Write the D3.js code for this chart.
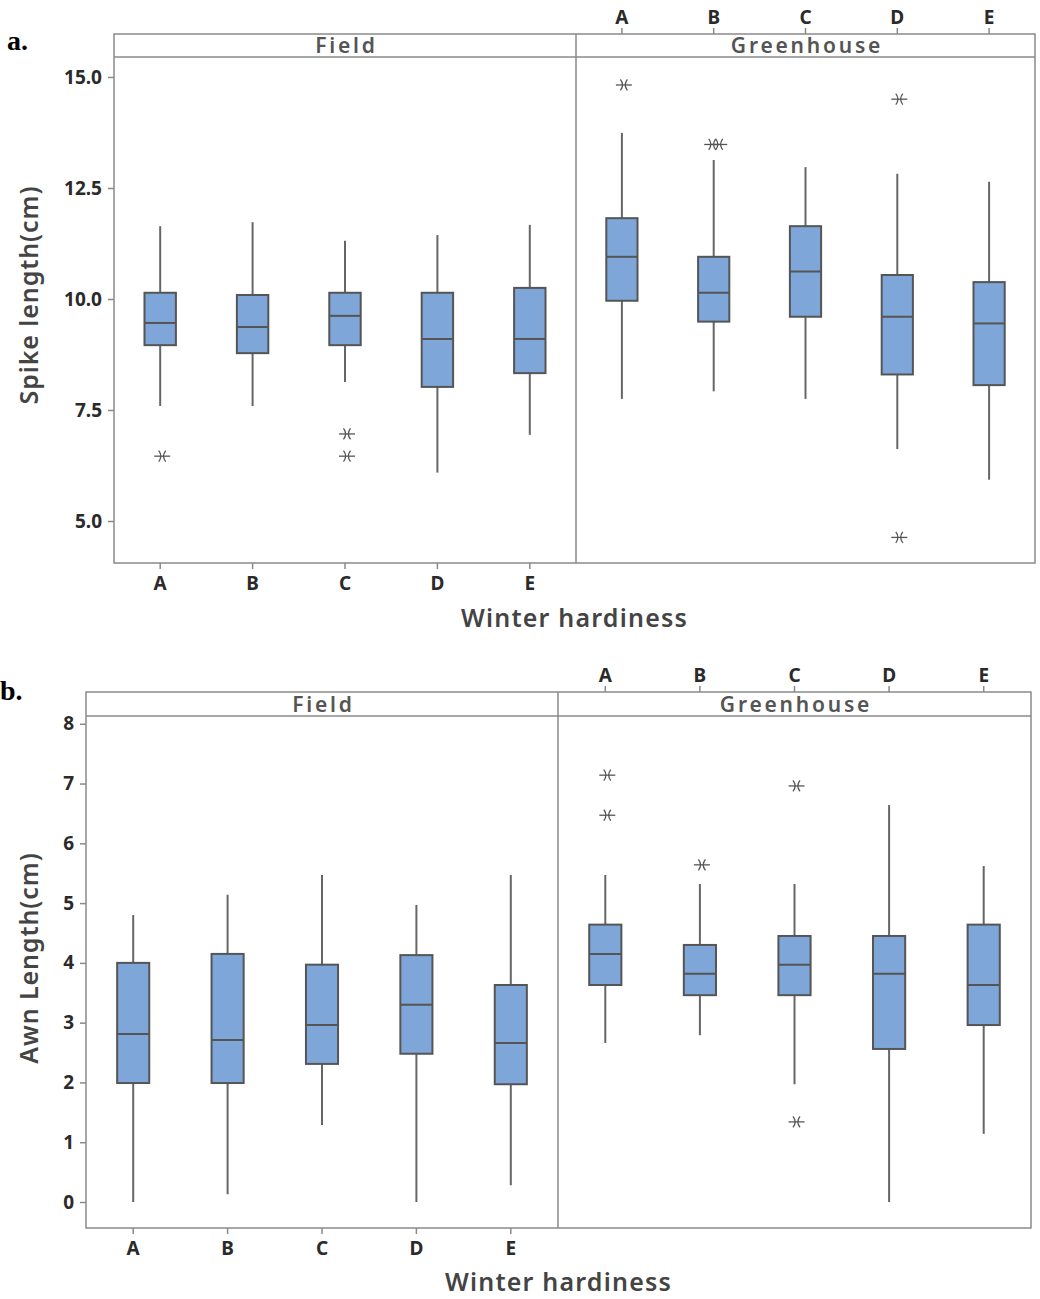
<!DOCTYPE html>
<html><head><meta charset="utf-8">
<script src="https://cdn.jsdelivr.net/npm/d3@7"></script>
<style>body{margin:0;background:#fff}</style>
</head><body>
<svg id="chart" width="1040" height="1299"></svg>
<script>
// ---------- DATA ----------
const categories = ["A","B","C","D","E"];
const groups = ["Field","Greenhouse"];
// each row: [whiskerLow, Q1, median, Q3, whiskerHigh]
const spikeField = [
  [7.59, 8.96, 9.46, 10.14, 11.64],
  [7.59, 8.78, 9.37, 10.09, 11.73],
  [8.13, 8.96, 9.62, 10.14, 11.31],
  [6.09, 8.02, 9.10, 10.14, 11.44],
  [6.94, 8.33, 9.10, 10.25, 11.67]
];
const spikeGreenhouse = [
  [7.75, 9.96, 10.95, 11.82, 13.74],
  [7.92, 9.49, 10.14, 10.95, 13.13],
  [7.75, 9.60, 10.62, 11.64, 12.97],
  [6.62, 8.30, 9.60, 10.54, 12.82],
  [5.93, 8.06, 9.45, 10.38, 12.64]
];
const spikeFieldOutliers = [[6.46], [], [6.96, 6.46], [], []];
const spikeGreenhouseOutliers = [[14.82], [13.48, 13.48], [], [14.50, 4.63], []];
const spikeTicks = [5.0, 7.5, 10.0, 12.5, 15.0];

const awnField = [
  [0.00, 1.99, 2.81, 4.00, 4.80],
  [0.13, 1.99, 2.71, 4.15, 5.14],
  [1.29, 2.31, 2.96, 3.97, 5.47],
  [0.00, 2.48, 3.30, 4.13, 4.97],
  [0.28, 1.97, 2.66, 3.63, 5.47]
];
const awnGreenhouse = [
  [2.66, 3.63, 4.15, 4.64, 5.47],
  [2.79, 3.46, 3.82, 4.30, 5.32],
  [1.97, 3.46, 3.97, 4.45, 5.32],
  [0.00, 2.56, 3.82, 4.45, 6.64],
  [1.14, 2.96, 3.63, 4.64, 5.62]
];
const awnFieldOutliers = [[], [], [], [], []];
const awnGreenhouseOutliers = [[7.14, 6.47], [5.64], [6.96, 1.34], [], []];
const awnTicks = [0, 1, 2, 3, 4, 5, 6, 7, 8];

// ---------- DRAW ----------
const svg = d3.select("#chart");
const FONT = "'Noto Sans', 'Open Sans', sans-serif";
const boxFill = "#7ea6d8", boxStroke = "#555", frameStroke = "#8a8a8a";

function star(g, x, y) {
  const s = g.append("g").attr("transform", `translate(${x},${y})`)
    .attr("fill", "none").attr("stroke", "#555").attr("stroke-width", 1.3);
  s.append("path").attr("d", "M-8,0H8");
  s.append("path").attr("d", "M-3.5,-5.5Q0.8,0 -3.5,5.5");
  s.append("path").attr("d", "M3.5,-5.5Q-0.8,0 3.5,5.5");
}

function styleTickText(sel) {
  sel.selectAll("text").attr("font-family", FONT).attr("font-size", 19)
    .attr("font-weight", 700).attr("fill", "#2a2a2a");
}

function drawPanel(cfg) {
  const g = svg.append("g");
  const y = d3.scaleLinear().domain(cfg.yDomain).range([cfg.bottom, cfg.stripBottom]);
  const xs = [
    d3.scaleBand().domain(categories).range([cfg.left, cfg.mid]),
    d3.scaleBand().domain(categories).range([cfg.mid, cfg.right])
  ];
  const dataSets = [cfg.field, cfg.green];
  const outSets = [cfg.fieldOut, cfg.greenOut];

  // frames
  g.append("rect").attr("x", cfg.left).attr("y", cfg.stripTop)
    .attr("width", cfg.right - cfg.left).attr("height", cfg.bottom - cfg.stripTop)
    .attr("fill", "none").attr("stroke", frameStroke).attr("stroke-width", 1.5);
  g.append("line").attr("x1", cfg.left).attr("x2", cfg.right)
    .attr("y1", cfg.stripBottom).attr("y2", cfg.stripBottom)
    .attr("stroke", frameStroke).attr("stroke-width", 1.5);
  g.append("line").attr("x1", cfg.mid).attr("x2", cfg.mid)
    .attr("y1", cfg.stripTop).attr("y2", cfg.bottom)
    .attr("stroke", frameStroke).attr("stroke-width", 1.5);

  // strip labels
  groups.forEach((name, i) => {
    const [a, b] = xs[i].range();
    g.append("text").attr("x", (a + b) / 2 + 1.5).attr("y", cfg.stripBottom - 4)
      .attr("text-anchor", "middle").attr("font-family", FONT)
      .attr("font-size", 21).attr("font-weight", 600).attr("letter-spacing", 2.8)
      .attr("fill", "#555").text(name);
  });

  // y axis
  const yAxis = d3.axisLeft(y).tickValues(cfg.ticks).tickSize(6).tickPadding(6)
    .tickFormat(cfg.tickFormat);
  const ya = g.append("g").attr("transform", `translate(${cfg.left},0)`).call(yAxis);
  ya.select(".domain").remove();
  ya.selectAll("line").attr("stroke", frameStroke).attr("stroke-width", 1.5);
  styleTickText(ya);

  // bottom axis for Field
  const xb = g.append("g").attr("transform", `translate(0,${cfg.bottom})`)
    .call(d3.axisBottom(xs[0]).tickSize(6).tickPadding(8));
  xb.select(".domain").remove();
  xb.selectAll("line").attr("stroke", frameStroke).attr("stroke-width", 1.5);
  styleTickText(xb);

  // top axis for Greenhouse
  const xt = g.append("g").attr("transform", `translate(0,${cfg.stripTop})`)
    .call(d3.axisTop(xs[1]).tickSize(6).tickPadding(4));
  xt.select(".domain").remove();
  xt.selectAll("line").attr("stroke", frameStroke).attr("stroke-width", 1.5);
  styleTickText(xt);

  // boxes
  dataSets.forEach((rows, gi) => {
    const x = xs[gi];
    const bw = x.bandwidth() * 0.34;
    rows.forEach((r, ci) => {
      const cx = x(categories[ci]) + x.bandwidth() / 2;
      const [lo, q1, med, q3, hi] = r;
      g.append("line").attr("x1", cx).attr("x2", cx).attr("y1", y(hi)).attr("y2", y(q3))
        .attr("stroke", "#666").attr("stroke-width", 2);
      g.append("line").attr("x1", cx).attr("x2", cx).attr("y1", y(q1)).attr("y2", y(lo))
        .attr("stroke", "#666").attr("stroke-width", 2);
      g.append("rect").attr("x", cx - bw / 2).attr("y", y(q3))
        .attr("width", bw).attr("height", y(q1) - y(q3))
        .attr("fill", boxFill).attr("stroke", boxStroke).attr("stroke-width", 2);
      g.append("line").attr("x1", cx - bw / 2).attr("x2", cx + bw / 2)
        .attr("y1", y(med)).attr("y2", y(med))
        .attr("stroke", boxStroke).attr("stroke-width", 2);
      // outliers (duplicates drawn side by side)
      const outs = outSets[gi][ci];
      const counts = {};
      outs.forEach(v => { counts[v] = (counts[v] || 0) + 1; });
      const seen = {};
      outs.forEach(v => {
        const n = counts[v];
        const k = seen[v] = (seen[v] || 0) + 1;
        const off = n > 1 ? (k - (n + 1) / 2) * 7 : 0;
        star(g, cx + 2 + off, y(v));
      });
    });
  });

  // axis titles
  g.append("text")
    .attr("transform", `translate(${cfg.yTitleX},${cfg.yTitleY}) rotate(-90)`)
    .attr("text-anchor", "middle").attr("font-family", FONT).attr("font-size", 25)
    .attr("font-weight", 600).attr("letter-spacing", 0.9)
    .attr("fill", "#444").text(cfg.yTitle);
  g.append("text").attr("x", (cfg.left + cfg.right) / 2).attr("y", cfg.xTitleY)
    .attr("text-anchor", "middle").attr("font-family", FONT).attr("font-size", 25)
    .attr("font-weight", 600).attr("letter-spacing", 1.2)
    .attr("fill", "#444").text("Winter hardiness");

  // panel letter
  g.append("text").attr("x", cfg.letterX).attr("y", cfg.letterY)
    .attr("font-family", "'Liberation Serif', 'Times New Roman', serif")
    .attr("font-size", 28).attr("font-weight", 700).attr("fill", "#000").text(cfg.letter);
}

drawPanel({
  left: 114, right: 1035, mid: 576, stripTop: 34, stripBottom: 57, bottom: 563,
  yDomain: [4.054, 15.45], ticks: spikeTicks, tickFormat: d3.format(".1f"),
  field: spikeField, green: spikeGreenhouse,
  fieldOut: spikeFieldOutliers, greenOut: spikeGreenhouseOutliers,
  yTitle: "Spike length(cm)", yTitleX: 38, yTitleY: 295, xTitleY: 627,
  letter: "a.", letterX: 7, letterY: 50
});

drawPanel({
  left: 86, right: 1031, mid: 558, stripTop: 692, stripBottom: 716, bottom: 1228,
  yDomain: [-0.435, 8.13], ticks: awnTicks, tickFormat: d3.format("d"),
  field: awnField, green: awnGreenhouse,
  fieldOut: awnFieldOutliers, greenOut: awnGreenhouseOutliers,
  yTitle: "Awn Length(cm)", yTitleX: 38, yTitleY: 958, xTitleY: 1291,
  letter: "b.", letterX: 0, letterY: 700
});
</script>
</body></html>
